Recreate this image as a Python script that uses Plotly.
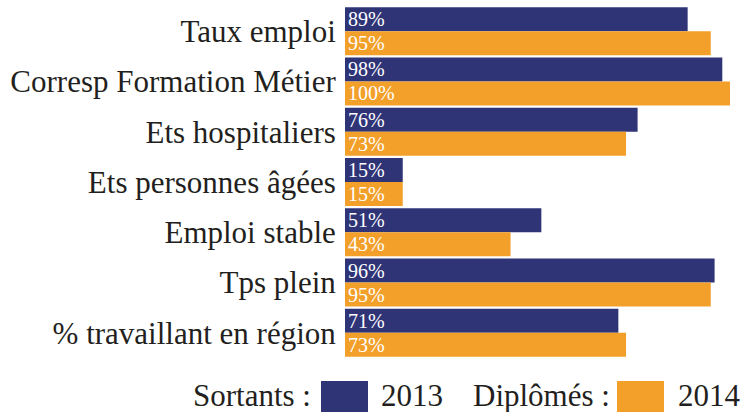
import plotly.graph_objects as go

categories = ["Taux emploi", "Corresp Formation Métier", "Ets hospitaliers",
              "Ets personnes âgées", "Emploi stable", "Tps plein",
              "% travaillant en région"]
sortants_2013 = [89, 98, 76, 15, 51, 96, 71]
diplomes_2014 = [95, 100, 73, 15, 43, 95, 73]

NAVY = "#2f3477"
ORANGE = "#f2a02a"
TXT = "#231f20"
FONT = "'Liberation Serif', 'DejaVu Serif', serif"
BIG = 31

W, H = 751, 412
L, R, T, B = 345, 21, 6, 54
pw, ph = W - L - R, H - T - B

def px(x):
    return (x - L) / pw

def py(y):
    return (H - B - y) / ph

fig = go.Figure()
fig.add_trace(go.Bar(
    y=categories, x=sortants_2013, orientation="h", name="2013",
    marker=dict(color=NAVY, line=dict(width=0)),
    text=[f"{v}%" for v in sortants_2013], textposition="inside",
    insidetextanchor="start", constraintext="none",
    textfont=dict(color="white", size=20, family=FONT),
    hoverinfo="skip",
))
fig.add_trace(go.Bar(
    y=categories, x=diplomes_2014, orientation="h", name="2014",
    marker=dict(color=ORANGE, line=dict(width=0)),
    text=[f"{v}%" for v in diplomes_2014], textposition="inside",
    insidetextanchor="start", constraintext="none",
    textfont=dict(color="white", size=20, family=FONT),
    hoverinfo="skip",
))

annotations = []
shapes = []
ly = 395
annotations.append(dict(text="Sortants :", x=px(313), y=py(ly), xref="paper", yref="paper",
                        xanchor="right", yanchor="middle", showarrow=False,
                        font=dict(size=BIG, color=TXT, family=FONT)))
annotations.append(dict(text="2013", x=px(379), y=py(ly), xref="paper", yref="paper",
                        xanchor="left", yanchor="middle", showarrow=False,
                        font=dict(size=BIG, color=TXT, family=FONT)))
annotations.append(dict(text="Diplômés :", x=px(471), y=py(ly), xref="paper", yref="paper",
                        xanchor="left", yanchor="middle", showarrow=False,
                        font=dict(size=BIG, color=TXT, family=FONT)))
annotations.append(dict(text="2014", x=px(676), y=py(ly), xref="paper", yref="paper",
                        xanchor="left", yanchor="middle", showarrow=False,
                        font=dict(size=BIG, color=TXT, family=FONT)))
shapes.append(dict(type="rect", xref="paper", yref="paper",
                   x0=px(321), x1=px(368), y0=py(381), y1=py(413),
                   fillcolor=NAVY, line=dict(width=0)))
shapes.append(dict(type="rect", xref="paper", yref="paper",
                   x0=px(617), x1=px(664), y0=py(381), y1=py(413),
                   fillcolor=ORANGE, line=dict(width=0)))

fig.update_layout(
    width=W, height=H,
    margin=dict(l=L, r=R, t=T, b=B, pad=0),
    barmode="group", bargap=0.045, bargroupgap=0,
    plot_bgcolor="white", paper_bgcolor="white",
    showlegend=False,
    font=dict(family=FONT, color=TXT),
    xaxis=dict(range=[0, 100], visible=False, fixedrange=True),
    yaxis=dict(autorange="reversed", showgrid=False, zeroline=False, showline=False,
               fixedrange=True, automargin=False,
               ticks="outside", ticklen=2, tickcolor="rgba(0,0,0,0)",
               tickfont=dict(size=BIG, color=TXT, family=FONT)),
    annotations=annotations, shapes=shapes,
)

fig.write_html("out.html", config={"displayModeBar": False},
               post_script="document.body.style.margin='0';document.body.style.overflow='hidden';")
